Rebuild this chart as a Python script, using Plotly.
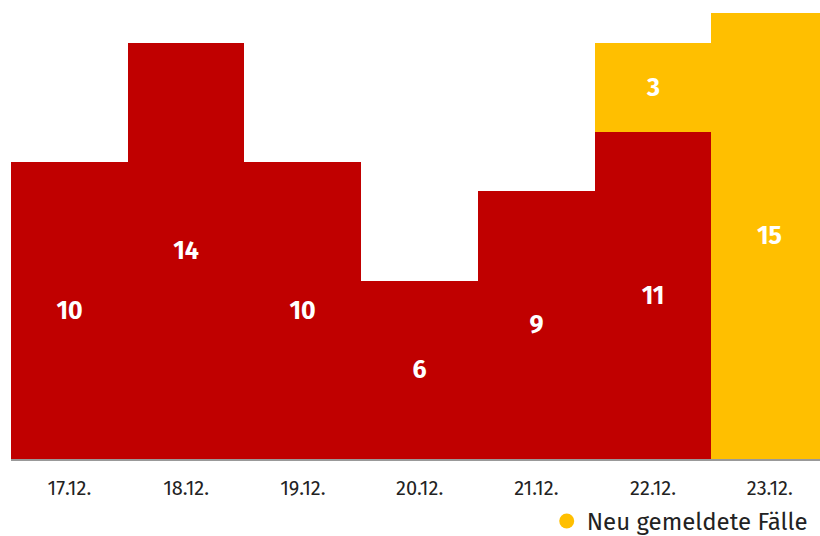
import plotly.graph_objects as go

dates = ["17.12.", "18.12.", "19.12.", "20.12.", "21.12.", "22.12.", "23.12."]
earlier = [10, 14, 10, 6, 9, 11, 0]
new_cases = [0, 0, 0, 0, 0, 3, 15]
legend_label = "Neu gemeldete Fälle"

RED = "#C00000"
YELLOW = "#FFBF00"
FONT = "Fira Sans, Noto Sans, Open Sans, sans-serif"

def labels(vals):
    return [str(v) if v else "" for v in vals]

fig = go.Figure()
for vals, col in ((earlier, RED), (new_cases, YELLOW)):
    fig.add_trace(go.Bar(
        x=dates, y=vals, marker=dict(color=col, line=dict(width=0)),
        text=labels(vals), textposition="inside", insidetextanchor="middle",
        textfont=dict(color="white", size=25, family=FONT, weight="bold"),
        showlegend=False, hoverinfo="skip",
    ))
fig.add_trace(go.Scatter(
    x=[None], y=[None], mode="markers", name=legend_label,
    marker=dict(color=YELLOW, size=15, symbol="circle"),
))

fig.update_layout(
    width=820, height=536,
    margin=dict(l=11, r=0, t=13, b=76.5, autoexpand=False),
    barmode="stack", bargap=0,
    plot_bgcolor="white", paper_bgcolor="white",
    font=dict(family=FONT, color="#222222"),
    legend=dict(orientation="h", x=0.991, xanchor="right", y=-0.14, yanchor="middle",
                font=dict(size=24, color="#222222"), itemwidth=30,
                bgcolor="rgba(0,0,0,0)"),
    xaxis=dict(type="category", range=[-0.5, 6.43], showline=True, linecolor="#999999",
               linewidth=2, ticks="", showgrid=False, ticklabelstandoff=10,
               tickfont=dict(size=20, color="#222222")),
    yaxis=dict(range=[0, 15], visible=False, showgrid=False),
)
fig.write_html(
    "out.html",
    config={"displayModeBar": False},
    post_script="document.body.style.margin='0';document.body.style.overflow='hidden';",
)
